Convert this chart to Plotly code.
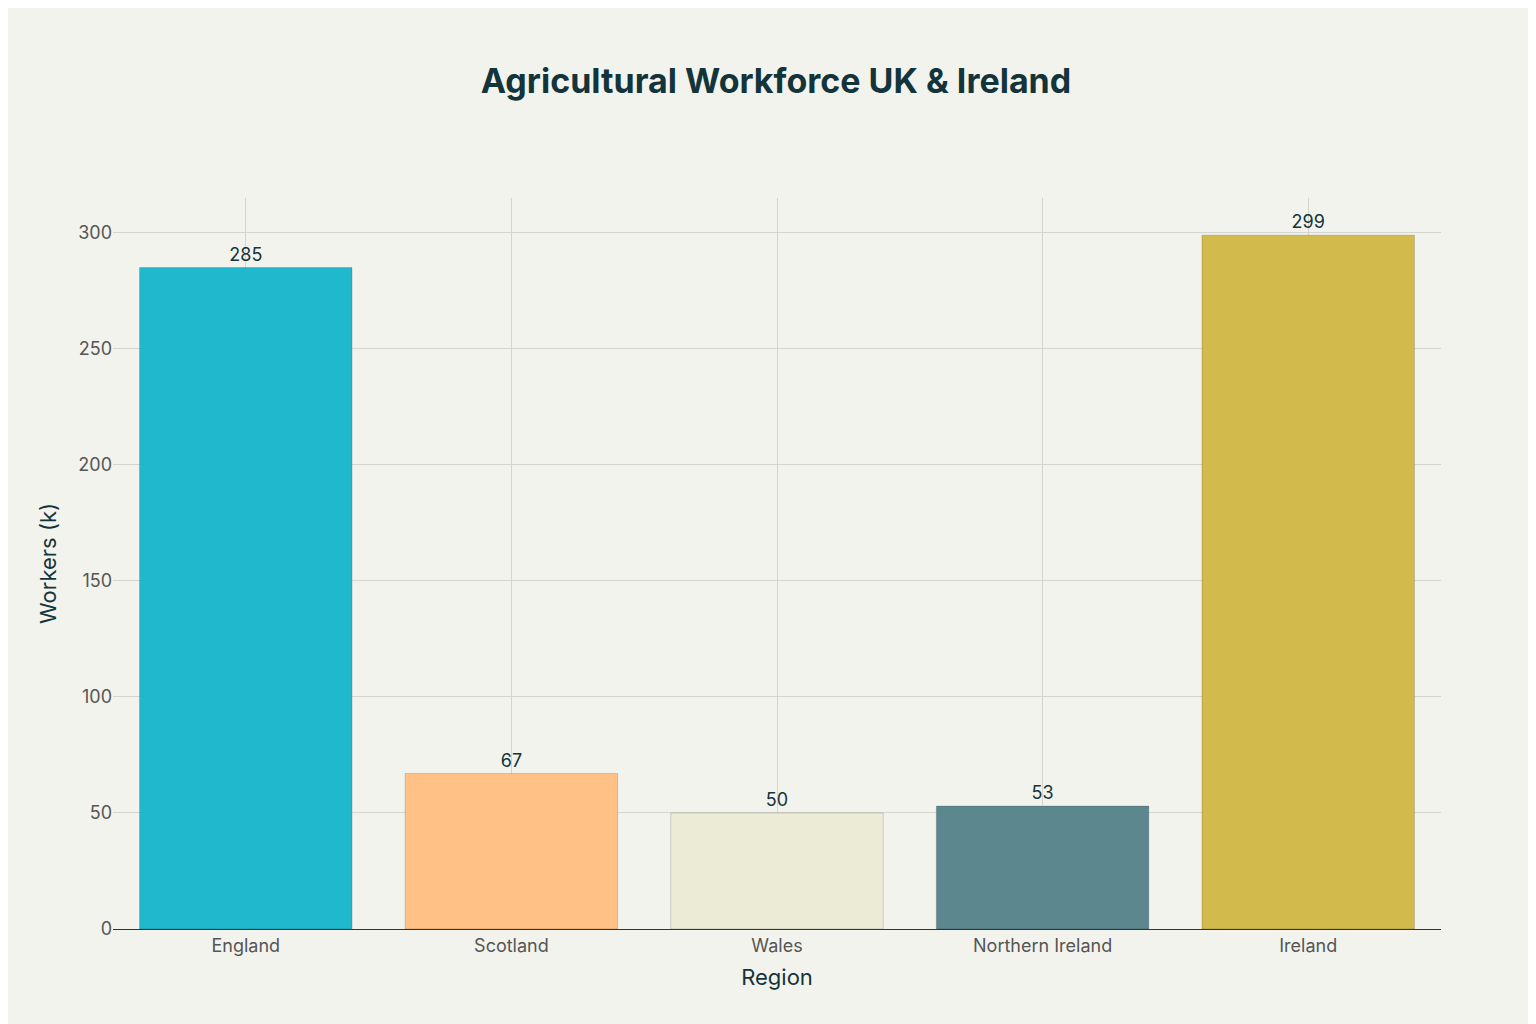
import plotly.graph_objects as go

regions = ['England', 'Scotland', 'Wales', 'Northern Ireland', 'Ireland']
workers = [285, 67, 50, 53, 299]
colors = ['#1FB8CD', '#FFC185', '#ECEBD5', '#5D878F', '#D2BA4C']

fig = go.Figure(go.Bar(
    x=regions, y=workers,
    marker=dict(color=colors, line=dict(color='rgba(0,0,0,0.15)', width=1)),
    text=workers, textposition='outside', cliponaxis=False,
    textfont=dict(size=18, color='#13343B'),
))

fig.update_layout(
    width=1536, height=1024,
    paper_bgcolor='#F3F3EE', plot_bgcolor='#F3F3EE',
    font=dict(family='Inter, Noto Sans, sans-serif', size=18, color='#13343B'),
    title=dict(text='<b>Agricultural Workforce UK & Ireland</b>', x=0.5, xanchor='center',
               y=0.94, font=dict(size=34, color='#13343B')),
    margin=dict(l=105, r=103, t=190, b=103),
    bargap=0.2,
    showlegend=False,
)
fig.update_xaxes(title_text='Region', showgrid=True, gridcolor='#D5D5D0',
                 showline=True, linecolor='#333', tickfont=dict(color='#555'),
                 title_font=dict(size=22))
fig.update_yaxes(title_text='Workers (k)', range=[0, 315], showgrid=True,
                 gridcolor='#D5D5D0', zeroline=False, tickvals=[0, 50, 100, 150, 200, 250, 300],
                 tickfont=dict(color='#555'), title_font=dict(size=22))

fig.write_html('out.html')
